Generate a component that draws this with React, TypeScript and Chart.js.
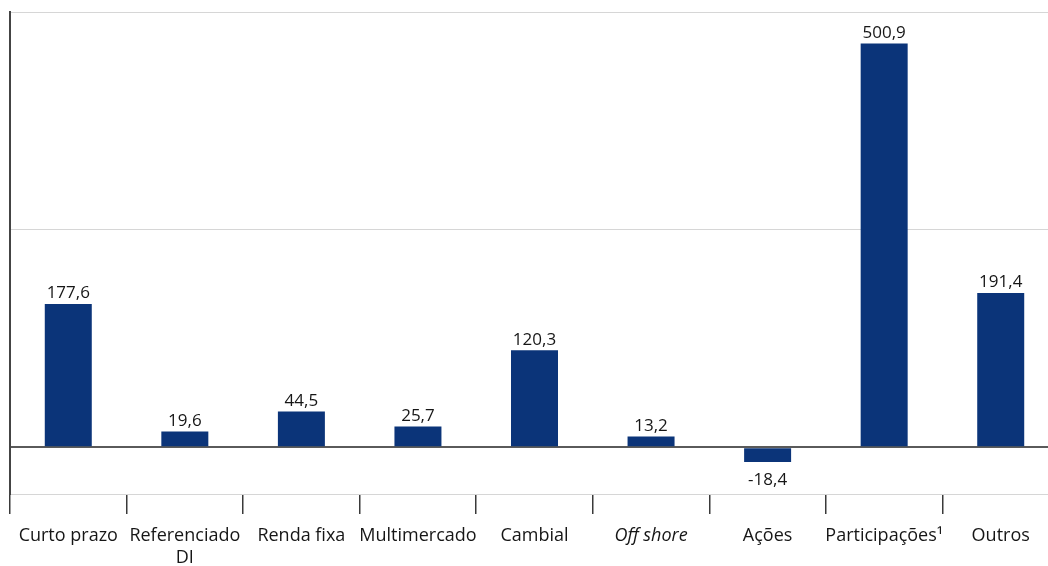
import React, { useEffect, useRef } from "react";
import { Chart, registerables } from "chart.js";

Chart.register(...registerables);

const categories: (string | string[])[] = [
  "Curto prazo",
  ["Referenciado", "DI"],
  "Renda fixa",
  "Multimercado",
  "Cambial",
  "Off shore",
  "Ações",
  "Participações¹",
  "Outros",
];
const values: number[] = [177.6, 19.6, 44.5, 25.7, 120.3, 13.2, -18.4, 500.9, 191.4];
const gridTicks: number[] = [-58, 0, 270, 540];
const italicIndex = 5;

const BAR_COLOR = "#0b3479";
const TEXT_COLOR = "#161616";
const FONT = "'Open Sans', 'Noto Sans', sans-serif";

const fmt = (v: number) => v.toFixed(1).replace(".", ",");

const valueLabels = {
  id: "valueLabels",
  afterDatasetsDraw(chart: any) {
    const ctx = chart.ctx;
    const meta = chart.getDatasetMeta(0);
    ctx.save();
    ctx.font = `17px ${FONT}`;
    ctx.fillStyle = TEXT_COLOR;
    ctx.textAlign = "center";
    meta.data.forEach((bar: any, i: number) => {
      const v = values[i];
      if (v >= 0) {
        ctx.textBaseline = "bottom";
        ctx.fillText(fmt(v), bar.x, bar.y - 2);
      } else {
        ctx.textBaseline = "top";
        ctx.fillText(fmt(v), bar.x, bar.y + 10);
      }
    });
    ctx.restore();
  },
};

export default function App() {
  const ref = useRef<HTMLCanvasElement>(null);
  useEffect(() => {
    document.documentElement.style.overflow = "hidden";
    document.body.style.overflow = "hidden";
    const chart = new Chart(ref.current!, {
      type: "bar",
      data: {
        labels: categories,
        datasets: [
          {
            data: values,
            backgroundColor: BAR_COLOR,
            barPercentage: 0.8,
            categoryPercentage: 0.504,
          },
        ],
      },
      options: {
        animation: false,
        responsive: false,
        maintainAspectRatio: false,
        layout: { padding: { left: 10, right: 11, top: 12, bottom: 0 } },
        plugins: { legend: { display: false }, tooltip: { enabled: false } },
        scales: {
          x: {
            grid: {
              drawOnChartArea: false,
              drawTicks: true,
              tickLength: 20,
              color: "#3a3a3a",
              lineWidth: 1.5,
              offset: true,
            },
            border: { display: false },
            ticks: {
              color: TEXT_COLOR,
              padding: 11,
              maxRotation: 0,
              autoSkip: false,
              font: (c: any) => ({
                family: FONT,
                size: 18,
                lineHeight: 1.22,
                style: c.index === italicIndex ? "italic" : "normal",
              }),
            },
            afterFit: (scale: any) => {
              scale.height = 72;
            },
          },
          y: {
            min: -58,
            max: 540,
            afterBuildTicks: (scale: any) => {
              scale.ticks = gridTicks.map((v) => ({ value: v }));
            },
            ticks: { display: false },
            grid: {
              drawTicks: false,
              color: (c: any) => (c.tick && c.tick.value === 0 ? "#5a5a5a" : "#d6d6d6"),
              lineWidth: (c: any) => (c.tick && c.tick.value === 0 ? 2 : 1),
            },
            border: { display: true, color: "#444444", width: 2 },
          },
        },
      },
      plugins: [valueLabels],
    });
    return () => chart.destroy();
  }, []);
  return (
    <div style={{ position: "fixed", left: 0, top: 0, width: 1070, height: 566 }}>
      <canvas ref={ref} width={1070} height={566} style={{ width: 1070, height: 566 }} />
    </div>
  );
}
